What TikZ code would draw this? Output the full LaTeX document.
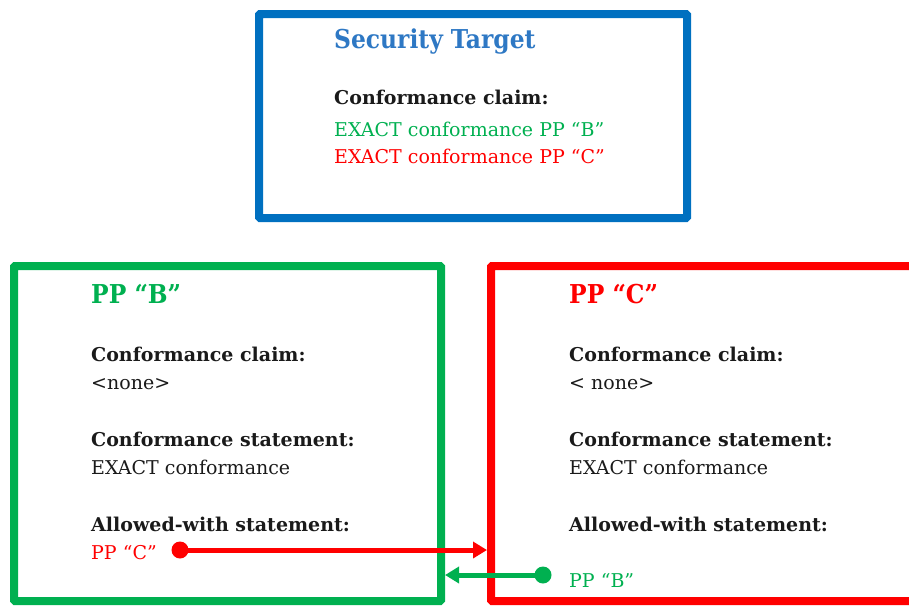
\documentclass[tikz,border=0pt]{standalone}
\usepackage{fontspec}
\setmainfont{DejaVu Serif}
\newfontfamily\titlefont{DejaVu Serif Condensed}
\usetikzlibrary{arrows.meta}
\definecolor{stblue}{HTML}{0070C0}
\definecolor{sttext}{HTML}{2E78C4}
\definecolor{ppgreen}{HTML}{00B050}
\definecolor{ppred}{HTML}{FF0000}
\definecolor{ink}{HTML}{1A1A1A}
\tikzset{
  frame/.style={draw=#1, line width=8pt, rounded corners=1pt, inner sep=0pt},
  txt/.style={anchor=base west, inner sep=0pt, text=ink, font=\fontsize{19}{22}\selectfont},
  head/.style={txt, font=\fontsize{19}{22}\selectfont\bfseries},
  title/.style={anchor=base west, inner sep=0pt, font=\titlefont\fontsize{26}{30}\selectfont\bfseries},
  dot/.style={circle, fill=#1, minimum size=17pt, inner sep=0pt},
  link/.style={draw=#1, line width=5pt, -{Triangle[length=14pt,width=16pt]}}
}
\begin{document}
\begin{tikzpicture}[x=1pt,y=-1pt]
\useasboundingbox (0,0) rectangle (909,606);
\clip (0,0) rectangle (909,606);
% boxes
\node[frame=stblue, minimum width=428pt, minimum height=204pt] (st) at (473,116) {};
\node[frame=ppgreen, minimum width=427pt, minimum height=335pt] (ppb) at (227.5,433.5) {};
\node[frame=ppred, minimum width=440pt, minimum height=335pt] (ppc) at (711,433.5) {};
% security target
\node[title, text=sttext] (sttitle) at (334,48) {Security Target};
\node[head] (stcc) at (334,104) {Conformance claim:};
\node[txt, text=ppgreen] (stb) at (334,136) {EXACT conformance PP “B”};
\node[txt, text=ppred] (stc) at (334,163) {EXACT conformance PP “C”};
% PP B
\node[title, text=ppgreen] (btitle) at (91,303) {PP “B”};
\node[head] (bcc) at (91,361) {Conformance claim:};
\node[txt] (bnone) at (91,389) {<none>};
\node[head] (bcs) at (91,446) {Conformance statement:};
\node[txt] (bexact) at (91,474) {EXACT conformance};
\node[head] (baw) at (91,531) {Allowed-with statement:};
\node[txt, text=ppred] (bc) at (91,559) {PP “C”};
% PP C
\node[title, text=ppred] (ctitle) at (569,303) {PP “C”};
\node[head] (ccc) at (569,361) {Conformance claim:};
\node[txt] (cnone) at (569,389) {< none>};
\node[head] (ccs) at (569,446) {Conformance statement:};
\node[txt] (cexact) at (569,474) {EXACT conformance};
\node[head] (caw) at (569,531) {Allowed-with statement:};
\node[txt, text=ppgreen] (cb) at (569,587) {PP “B”};
% connectors
\node[dot=ppred] (rdot) at (180,550) {};
\node[dot=ppgreen] (gdot) at (543,575) {};
\draw[link=ppred] (rdot.center) -- (ppc.west |- rdot.center);
\draw[link=ppgreen] (gdot.center) -- (ppb.east |- gdot.center);
\end{tikzpicture}
\end{document}
